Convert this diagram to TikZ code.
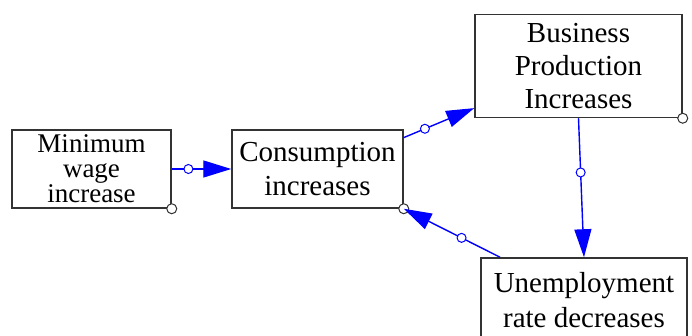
\documentclass[tikz,border=0pt]{standalone}
\usepackage{fontspec}
\setmainfont{Liberation Serif}
\usetikzlibrary{arrows.meta}

\tikzset{
  box/.style={draw=black!80, line width=0.75pt, fill=white, align=center, inner sep=0pt,
    font=\fontsize{14.5}{16.5}\selectfont},
  link/.style={draw=blue, line width=0.7pt, -{Triangle[length=14pt,width=8.5pt]}},
  knob/.style={circle, draw=blue, fill=white, line width=0.5pt, inner sep=0pt, minimum size=4.5pt},
  corner/.style={circle, draw=black!80, fill=white, line width=0.5pt, inner sep=0pt, minimum size=5pt}
}

\begin{document}
\begin{tikzpicture}[x=0.5pt,y=-0.5pt]
\useasboundingbox (0,0) rectangle (692,336);
\coordinate (m) at (91.5,169);
\coordinate (c) at (317.5,169);
\coordinate (b) at (578.5,66);
\coordinate (u) at (584,300);
% draws boxes
\node[box, minimum width=79.5pt, minimum height=39pt, font=\fontsize{13.5}{12.5}\selectfont] (min) at (m) {Minimum\\wage\\increase};
\node[box, minimum width=85.5pt, minimum height=39pt] (cons) at (c) {Consumption\\[0.3pt]increases};
\node[box, minimum width=103.5pt, minimum height=51.5pt] (bus) at (b) {Business\\Production\\Increases};
\node[box, minimum width=103pt, minimum height=42pt, font=\fontsize{14.5}{17.5}\selectfont] (unemp) at (u) {Unemployment\\rate decreases};
% draws corner marks
\node[corner] at (min.south east) {};
\node[corner] at (cons.south east) {};
\node[corner] at (bus.south east) {};
\node[corner] at (unemp.south east) {};
% draws links
\draw[link] (min.east) -- node[knob, pos=0.28] {} (cons.west);
\draw[link] (cons.20) -- node[knob, pos=0.3] {} (bus.202);
\draw[link] (bus.south) -- node[knob, pos=0.39] {} (unemp.north);
\draw[link] (unemp.153) -- node[knob, pos=0.4] {} (cons.south east);
\end{tikzpicture}
\end{document}
